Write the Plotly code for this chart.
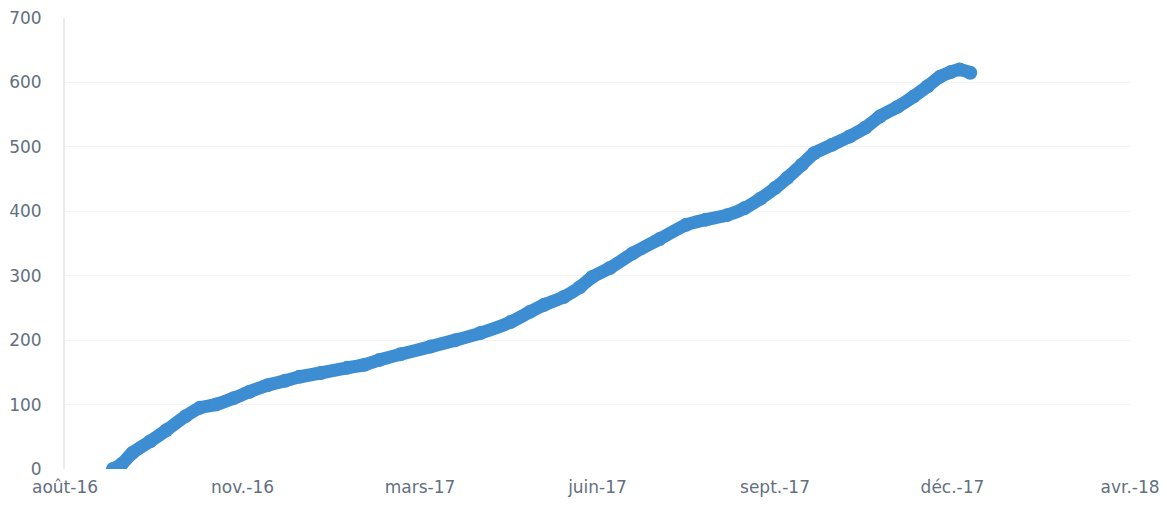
import plotly.graph_objects as go

dates = ["2016-09-11", "2016-09-16", "2016-09-22", "2016-10-02", "2016-10-11", "2016-10-22",
         "2016-10-30", "2016-11-08", "2016-11-18", "2016-11-27", "2016-12-07", "2016-12-17",
         "2016-12-25", "2017-01-06", "2017-01-21", "2017-01-31", "2017-02-08", "2017-02-20",
         "2017-03-09", "2017-03-23", "2017-04-06", "2017-04-23", "2017-05-04", "2017-05-12",
         "2017-05-23", "2017-06-01", "2017-06-08", "2017-06-18", "2017-07-01", "2017-07-16",
         "2017-07-31", "2017-08-11", "2017-08-23", "2017-09-02", "2017-09-11", "2017-09-19",
         "2017-09-26", "2017-10-04", "2017-10-11", "2017-10-21", "2017-10-31", "2017-11-09",
         "2017-11-17", "2017-11-27", "2017-12-06", "2017-12-14", "2017-12-21", "2017-12-27",
         "2018-01-01", "2018-01-07"]
values = [0, 8, 25, 43, 60, 82,
          95, 100, 110, 120, 130, 137,
          143, 149, 157, 162, 169, 178,
          190, 200, 211, 228, 244, 255,
          267, 282, 298, 312, 335, 357,
          379, 387, 394, 405, 420, 436,
          452, 472, 490, 503, 516, 530,
          547, 562, 578, 594, 609, 616,
          620, 615]

tick_dates = ["2016-08-15", "2016-11-23", "2017-03-03", "2017-06-11", "2017-09-19", "2017-12-28", "2018-04-07"]
tick_labels = ["août-16", "nov.-16", "mars-17", "juin-17", "sept.-17", "déc.-17", "avr.-18"]
y_ticks = [0, 100, 200, 300, 400, 500, 600, 700]

color = "#3C8DD2"
fig = go.Figure()
fig.add_trace(go.Scatter(
    x=dates, y=values, mode="lines+markers",
    line=dict(color=color, width=13, shape="spline", smoothing=0.6),
    marker=dict(color=color, size=14),
    showlegend=False, hoverinfo="x+y",
))

font = dict(family="DejaVu Sans, sans-serif", size=17, color="#637080")
fig.update_layout(
    width=1159, height=490,
    margin=dict(l=57, r=37, t=10, b=29),
    paper_bgcolor="white", plot_bgcolor="white",
    font=font,
    xaxis=dict(
        type="date", range=[tick_dates[0], tick_dates[-1]],
        tickmode="array", tickvals=tick_dates, ticktext=tick_labels,
        showgrid=False, zeroline=False, showline=False, ticks="",
        tickfont=font, ticklabelstandoff=6, automargin=False,
        ticklabeloverflow="allow",
    ),
    yaxis=dict(
        range=[0, 700], tickmode="array", tickvals=y_ticks,
        showgrid=True, gridcolor="#f3f3f3", gridwidth=1,
        zeroline=False, showline=True, linecolor="#ececec", linewidth=2,
        ticks="", tickfont=font, ticklabelstandoff=18, automargin=False,
        ticklabeloverflow="allow",
    ),
)

fig.write_html("out.html")
